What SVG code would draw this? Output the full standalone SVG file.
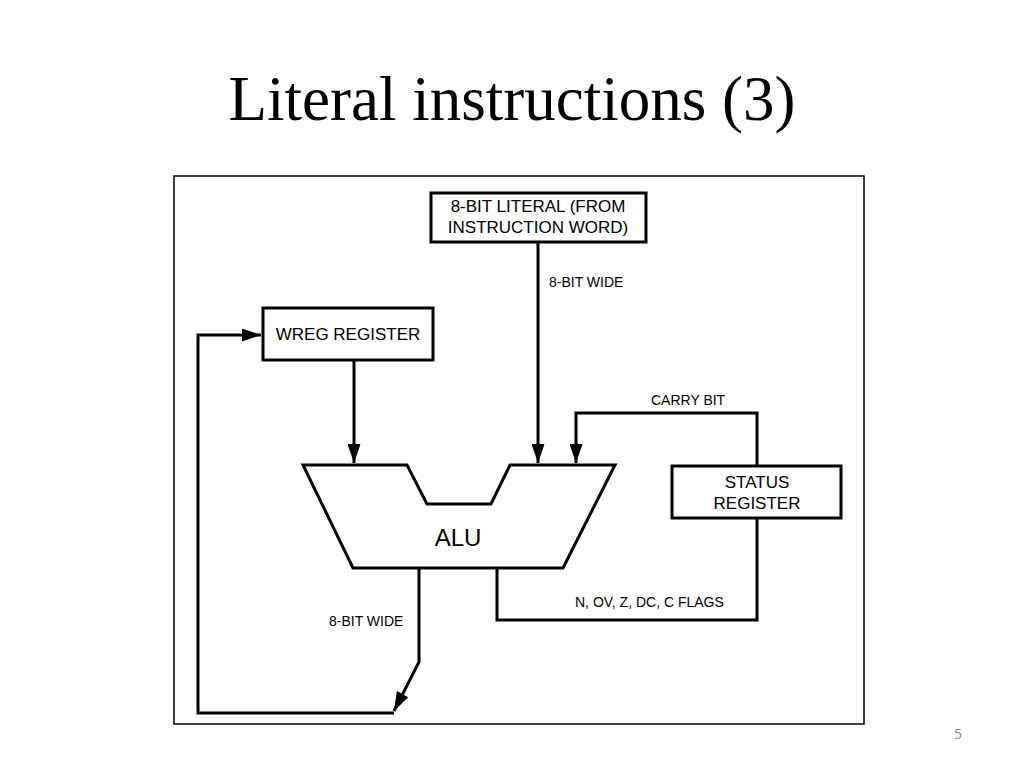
<svg xmlns="http://www.w3.org/2000/svg" width="1024" height="768" viewBox="0 0 1024 768">
<style>
.box{fill:#fff;stroke:#000;stroke-width:3}
.wire{fill:none;stroke:#000;stroke-width:3}
.bt{font-family:"Liberation Sans",Arial,sans-serif;font-size:17px;fill:#000;text-anchor:middle}
.lb{font-family:"Liberation Sans",Arial,sans-serif;font-size:14px;fill:#000}
</style>
<defs>
<marker id="ah" markerUnits="userSpaceOnUse" markerWidth="19" markerHeight="13" refX="19" refY="6.5" orient="auto">
<path d="M0,0 L19,6.5 L0,13 z" fill="#000"/>
</marker>
</defs>
<rect x="0" y="0" width="1024" height="768" fill="#fff"/>
<text x="512" y="120" font-family="Liberation Serif,'Times New Roman',serif" font-size="63" text-anchor="middle" fill="#000">Literal instructions (3)</text>
<rect x="174" y="176" width="690" height="548" fill="none" stroke="#000" stroke-width="1.5"/>
<g id="connectors">
<path class="wire" d="M538,242 V463" marker-end="url(#ah)"/>
<path class="wire" d="M354,360 V463" marker-end="url(#ah)"/>
<path class="wire" d="M757,466 V413 H576 V463" marker-end="url(#ah)"/>
<path class="wire" d="M497,568 V620 H757 V518"/>
<path class="wire" d="M419,568 V662 L394,711" marker-end="url(#ah)"/>
<path class="wire" d="M394,713 H198 V335 H261" marker-end="url(#ah)"/>
<text class="lb" x="549" y="287">8-BIT WIDE</text>
<text class="lb" x="651" y="405">CARRY BIT</text>
<text class="lb" x="575" y="607">N, OV, Z, DC, C FLAGS</text>
<text class="lb" x="329" y="626">8-BIT WIDE</text>
</g>
<g id="literal">
<rect class="box" x="431" y="193" width="215" height="49"/>
<text class="bt" x="538" y="212">8-BIT LITERAL (FROM</text>
<text class="bt" x="538" y="233">INSTRUCTION WORD)</text>
</g>
<g id="wreg">
<rect class="box" x="263" y="308" width="170" height="52"/>
<text class="bt" x="348" y="340">WREG REGISTER</text>
</g>
<g id="alu">
<path class="box" d="M303,465 H407 L427,504 H491 L510,465 H615 L563,568 H353 Z"/>
<text x="458" y="546" font-family="Liberation Sans,Arial,sans-serif" font-size="24" text-anchor="middle" fill="#000">ALU</text>
</g>
<g id="status">
<rect class="box" x="672" y="466" width="169" height="52"/>
<text class="bt" x="757" y="488">STATUS</text>
<text class="bt" x="757" y="509">REGISTER</text>
</g>
<text x="958" y="739" font-family="'Open Sans',Liberation Sans,sans-serif" font-size="14" text-anchor="middle" fill="#888">5</text>
</svg>
